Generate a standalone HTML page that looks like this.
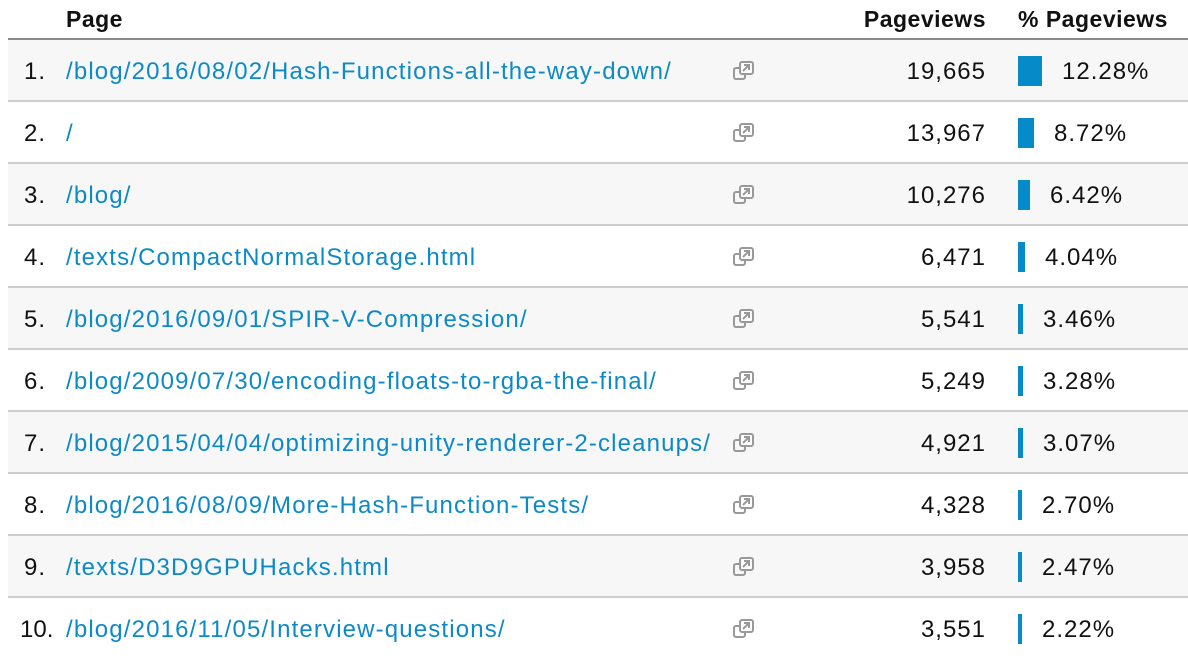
<!DOCTYPE html>
<html><head><style>
body{margin:0;width:1188px;height:654px;background:#fff;font-family:"Liberation Sans",Arial,sans-serif;overflow:hidden;position:relative;color:#222}
.h{position:absolute;top:0;height:38px;font-weight:bold;font-size:23px;letter-spacing:0.5px;line-height:38px;color:#111}
.hl{position:absolute;left:8px;right:0;top:38px;height:2px;background:#888}
.r{position:absolute;left:8px;right:0;height:60px;font-size:24px;letter-spacing:1px;line-height:64px;border-bottom:2px solid #ccc}
.r.g{background:#f7f7f7}
.n{position:absolute;color:#111}
.l{position:absolute;left:58px;color:#0c8ac8;letter-spacing:1.15px}
.ic{position:absolute;left:724px;top:19px}
.v{position:absolute;right:202px;color:#111}
.b{position:absolute;left:1010px;top:16px;height:30px;background:#078bc8}
.p{position:absolute;color:#111}
</style></head><body>
<div class="h" style="left:66px">Page</div>
<div class="h" style="right:202px">Pageviews</div>
<div class="h" style="left:1018px">% Pageviews</div>
<div class="hl"></div>
<div id="rows"></div>
<script>
var d=[["/blog/2016/08/02/Hash-Functions-all-the-way-down/","19,665","12.28%",24],
["/","13,967","8.72%",16],["/blog/","10,276","6.42%",12],
["/texts/CompactNormalStorage.html","6,471","4.04%",7],
["/blog/2016/09/01/SPIR-V-Compression/","5,541","3.46%",5],
["/blog/2009/07/30/encoding-floats-to-rgba-the-final/","5,249","3.28%",5],
["/blog/2015/04/04/optimizing-unity-renderer-2-cleanups/","4,921","3.07%",5],
["/blog/2016/08/09/More-Hash-Function-Tests/","4,328","2.70%",4],
["/texts/D3D9GPUHacks.html","3,958","2.47%",4],
["/blog/2016/11/05/Interview-questions/","3,551","2.22%",4]];
var ic='<svg class="ic" width="24" height="24" viewBox="0 0 24 24"><rect x="2" y="9" width="11" height="11" rx="2" fill="none" stroke="#999" stroke-width="2"/><rect x="8" y="3" width="13" height="12" rx="2" fill="#fff" stroke="#999" stroke-width="2"/><path d="M11 12l6-6M12 6h5v5" stroke="#999" stroke-width="2" fill="none"/></svg>';
var h='';
d.forEach(function(r,i){
h+='<div class="r'+(i%2==0?' g':'')+'" style="top:'+(40+i*62)+'px;'+(i==9?'border-bottom:none':'')+'">'
+'<span class="n" style="left:'+(i==9?12:16)+'px;letter-spacing:'+(i==9?'0':'1px')+'">'+(i+1)+'.</span><span class="l">'+r[0]+'</span>'+ic
+'<span class="v">'+r[1]+'</span><div class="b" style="width:'+r[3]+'px"></div>'
+'<span class="p" style="left:'+(1010+r[3]+20)+'px">'+r[2]+'</span></div>';});
document.getElementById('rows').innerHTML=h;
</script>
</body></html>
